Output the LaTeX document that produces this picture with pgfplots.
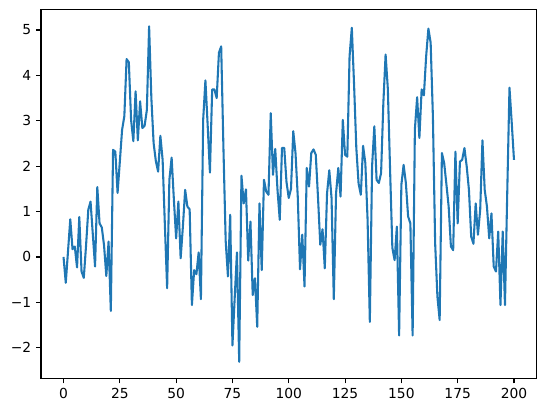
\documentclass[border=0pt]{standalone}
\usepackage{fontspec}
\setmainfont{DejaVu Sans}
\usepackage{pgfplots}
\pgfplotsset{compat=1.18}
\usepackage{pgfplotstable}
\definecolor{C0}{HTML}{1F77B4}
\pgfplotstableread{
x y
0 0.00
1 -0.57
2 0.13
3 0.83
4 0.17
5 0.23
6 -0.23
7 0.88
8 -0.32
9 -0.46
10 0.25
11 1.04
12 1.22
13 0.50
14 -0.21
15 1.54
16 0.74
17 0.65
18 0.25
19 -0.42
20 0.34
21 -1.19
22 2.36
23 2.32
24 1.41
25 2.10
26 2.80
27 3.10
28 4.36
29 4.29
30 3.02
31 2.55
32 3.65
33 2.57
34 3.43
35 2.84
36 2.89
37 3.24
38 5.08
39 3.50
40 2.51
41 2.11
42 1.88
43 2.67
44 2.14
45 0.70
46 -0.69
47 1.70
48 2.19
49 1.26
50 0.41
51 1.22
52 -0.03
53 0.67
54 1.48
55 1.11
56 1.05
57 -1.06
58 -0.29
59 -0.38
60 0.10
61 -0.93
62 3.02
63 3.89
64 2.90
65 1.86
66 3.69
67 3.69
68 3.50
69 4.50
70 4.64
71 2.40
72 0.35
73 -0.43
74 0.93
75 -1.95
76 -0.90
77 0.10
78 -2.31
79 1.79
80 1.18
81 1.49
82 -0.08
83 0.78
84 -0.84
85 -0.47
86 -1.54
87 1.18
88 -0.29
89 1.70
90 1.44
91 1.37
92 3.17
93 1.81
94 2.38
95 1.48
96 0.82
97 2.40
98 2.40
99 1.65
100 1.30
101 1.50
102 2.77
103 2.29
104 1.33
105 -0.27
106 0.49
107 -0.65
108 1.96
109 1.55
110 2.29
111 2.37
112 2.25
113 1.30
114 0.27
115 0.61
116 -0.25
117 1.40
118 1.91
119 1.30
120 -0.93
121 1.40
122 1.96
123 1.33
124 3.02
125 2.25
126 2.21
127 4.42
128 5.05
129 3.80
130 2.40
131 1.62
132 1.37
133 2.45
134 2.07
135 0.82
136 -1.43
137 2.00
138 2.88
139 1.70
140 1.63
141 1.85
142 3.39
143 4.46
144 3.70
145 1.90
146 0.20
147 -0.07
148 0.67
149 -1.73
150 1.59
151 2.03
152 1.63
153 0.89
154 0.74
155 -1.73
156 2.81
157 3.52
158 2.62
159 3.69
160 3.56
161 4.42
162 5.03
163 4.72
164 3.10
165 0.30
166 -0.87
167 -1.39
168 2.29
169 2.07
170 1.60
171 1.11
172 0.23
173 0.15
174 2.32
175 0.74
176 2.10
177 2.14
178 2.40
179 2.00
180 1.48
181 0.45
182 0.29
183 1.18
184 0.49
185 1.04
186 2.57
187 1.48
188 1.11
189 0.41
190 0.96
191 -0.21
192 -0.32
193 0.56
194 -1.06
195 0.56
196 -1.06
197 1.40
198 3.73
199 2.96
200 2.14
}\mydata
\begin{document}
\begin{tikzpicture}
\begin{axis}[
  scale only axis, width=4.955in, height=3.69in,
  xmin=-10, xmax=210, ymin=-2.68, ymax=5.45,
  xtick={0,25,...,200}, xticklabels={0,25,50,75,100,125,150,175,200},
  ytick={-2,-1,...,5}, yticklabels={−2,−1,0,1,2,3,4,5},
  tick align=outside, major tick length=3.5pt,
  every tick/.style={black, line width=0.8pt},
  axis line style={line width=0.8pt},
  tick label style={font=\fontsize{10}{12}\selectfont},
  xtick pos=bottom, ytick pos=left,
  minor tick num=0,
]
\addplot[C0, line width=1.5pt, line join=round, no markers] table {\mydata};
\end{axis}
\pgfresetboundingbox
\path ([shift={(-0.41in,-0.343in)}]current axis.south west) rectangle ([shift={(0.095in,0.096in)}]current axis.north east);
\end{tikzpicture}
\end{document}
